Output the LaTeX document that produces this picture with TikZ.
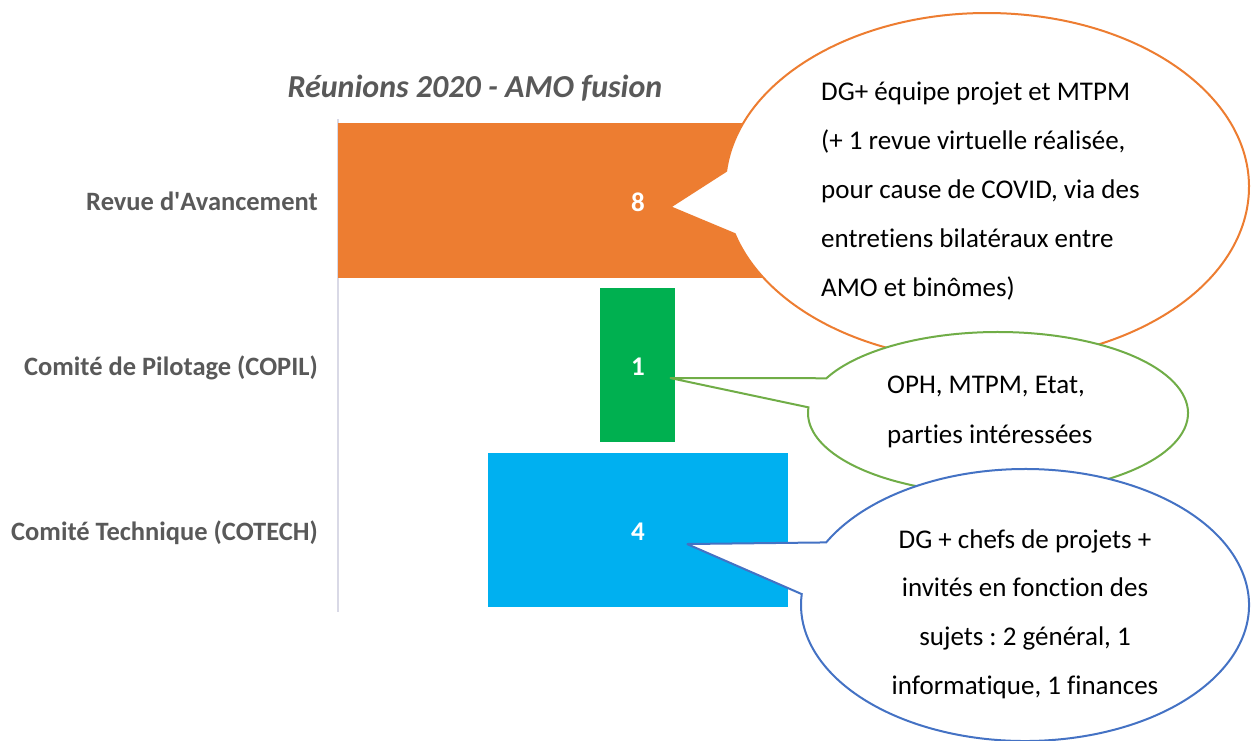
\documentclass[tikz,border=0pt]{standalone}
\usepackage{fontspec}
\setmainfont{Carlito}[Ligatures={NoCommon}]
\frenchspacing
\definecolor{barOrange}{HTML}{ED7D31}
\definecolor{barGreen}{HTML}{00B050}
\definecolor{barBlue}{HTML}{00B0F0}
\definecolor{lineGreen}{HTML}{70AD47}
\definecolor{lineBlue}{HTML}{4472C4}
\definecolor{labelGray}{HTML}{595959}
\definecolor{axisGray}{HTML}{D9D9E6}

\begin{document}
\begin{tikzpicture}[x=1pt,y=-1pt,
  cat/.style={anchor=base east, inner sep=0pt, text=labelGray,
    font=\fontsize{26.5}{31}\selectfont\bfseries},
  val/.style={anchor=base, inner sep=0pt, text=white,
    font=\fontsize{27}{31}\selectfont\bfseries},
  bubble/.style={draw=#1, fill=white, line width=2pt, miter limit=2},
  btext/.style={inner sep=0pt, text=black, font=\fontsize{27}{31}\selectfont},
]
\useasboundingbox (0,0) rectangle (1253,740);

% title
\node[anchor=base, inner sep=0pt, text=labelGray,
  font=\fontsize{32}{37}\selectfont\bfseries\itshape] (title) at (475,97)
  {Réunions 2020 - AMO fusion};

% category axis
\draw[axisGray, line width=1.5pt] (338,119) -- (338,612);

% funnel bars (centred on x = 638)
\fill[barOrange] (338,123) rectangle (938,278);
\fill[barGreen]  (600,288) rectangle (675,442);
\fill[barBlue]   (488,453) rectangle (788,607);

% category labels
\node[cat] (catRA) at (318,210.5) {Revue d\textquotesingle Avancement};
\node[cat] (catCP) at (318,375)   {Comité de Pilotage (COPIL)};
\node[cat] (catCT) at (318,540)   {Comité Technique (COTECH)};

% values
\node[val] (valRA) at (638,211) {8};
\node[val] (valCP) at (638,375) {1};
\node[val] (valCT) at (638,540) {4};

% callout anchors: ellipse centres and pointer tips
\coordinate (cO) at (987,187);
\coordinate (tO) at (670,207);
\coordinate (cG) at (998,413);
\coordinate (tG) at (670,378);
\coordinate (cB) at (1025,605);
\coordinate (tB) at (687,544);

% orange callout
\draw[bubble=barOrange] (tO) -- ([shift={(185.3:262 and 174)}]cO)
  arc[start angle=185.3, end angle=524.3, x radius=262, y radius=174] -- cycle;
\foreach \txt [count=\i] in {{DG+ équipe projet et MTPM},
    {(+ 1 revue virtuelle réalisée,},
    {pour cause de COVID, via des},
    {entretiens bilatéraux entre},
    {AMO et binômes)}}
  \node[btext, anchor=base west] (noteO-\i) at (821,{100+49*(\i-1)}) {\txt};

% green callout
\draw[bubble=lineGreen] (tG) -- ([shift={(205.4:190 and 81)}]cG)
  arc[start angle=205.4, end angle=544, x radius=190, y radius=81] -- cycle;
\foreach \txt [count=\i] in {{OPH, MTPM, Etat,},
    {parties intéressées}}
  \node[btext, anchor=base west] (noteG-\i) at (887,{393+50*(\i-1)}) {\txt};

% blue callout
\draw[bubble=lineBlue] (tB) -- ([shift={(207.4:224 and 136)}]cB)
  arc[start angle=207.4, end angle=544.6, x radius=224, y radius=136] -- cycle;
\foreach \txt [count=\i] in {{DG + chefs de projets +},
    {invités en fonction des},
    {sujets : 2 général, 1},
    {informatique, 1 finances}}
  \node[btext, anchor=base] (noteB-\i) at (1025,{548+48.7*(\i-1)}) {\txt};
\end{tikzpicture}
\end{document}
